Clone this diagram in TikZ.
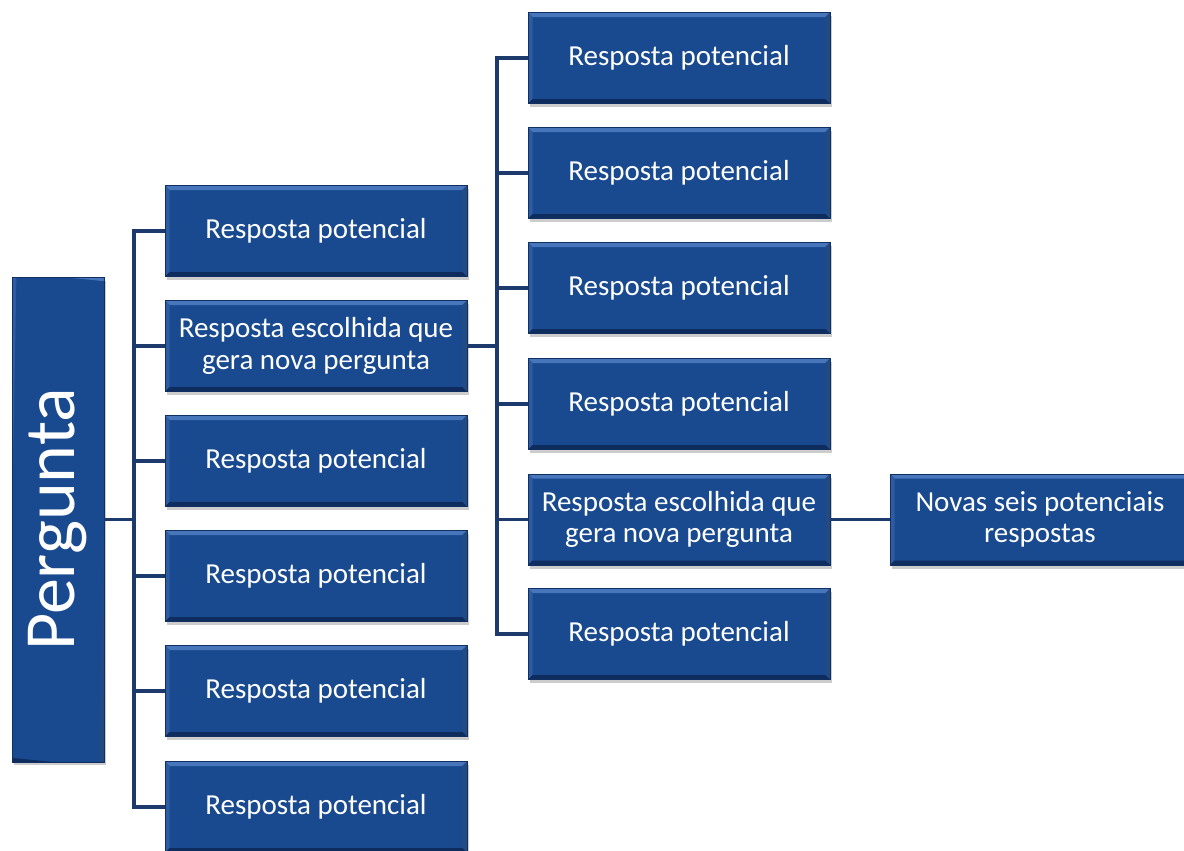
\documentclass[tikz,border=0pt]{standalone}
\usepackage{fontspec}
\setmainfont{Carlito}
\usetikzlibrary{shadows}
\definecolor{boxblue}{RGB}{25,74,144}
\definecolor{boxtop}{RGB}{72,118,186}
\definecolor{boxside}{RGB}{45,92,162}
\definecolor{boxlow}{RGB}{14,44,94}
\definecolor{boxedge}{RGB}{16,48,100}
\definecolor{wireblue}{RGB}{28,58,108}
\tikzset{
  bevel/.style={path picture={
    \coordinate (nw) at (path picture bounding box.north west);
    \coordinate (ne) at (path picture bounding box.north east);
    \coordinate (sw) at (path picture bounding box.south west);
    \coordinate (se) at (path picture bounding box.south east);
    \fill[boxtop] (nw) -- (ne) -- ([shift={(-0.09cm,-0.09cm)}]ne) -- ([shift={(0.09cm,-0.09cm)}]nw) -- cycle;
    \fill[boxside] (nw) -- (sw) -- ([shift={(0.09cm,0.09cm)}]sw) -- ([shift={(0.09cm,-0.09cm)}]nw) -- cycle;
    \fill[boxside!80!black] (ne) -- (se) -- ([shift={(-0.09cm,0.09cm)}]se) -- ([shift={(-0.09cm,-0.09cm)}]ne) -- cycle;
    \fill[boxlow] (sw) -- (se) -- ([shift={(-0.09cm,0.09cm)}]se) -- ([shift={(0.09cm,0.09cm)}]sw) -- cycle;
  }}
}
\begin{document}
\begin{tikzpicture}[
    x=0.02cm, y=-0.02cm,
    answer/.style={rectangle, bevel, fill=boxblue, draw=boxedge, line width=0.5pt,
      minimum width=6.04cm, minimum height=1.82cm, inner sep=2pt, align=center,
      text=white, font=\fontsize{16.5}{18}\selectfont,
      drop shadow={shadow xshift=1.2pt, shadow yshift=-2pt, opacity=0.4}},
    question/.style={answer, rotate=90, minimum width=9.7cm, minimum height=1.84cm,
      font=\fontsize{41}{44}\selectfont},
    wire/.style={draw=wireblue, line width=0.07cm}
]
  \useasboundingbox (0,0) rectangle (1184,850);

  % Question
  \node[question] (q) at (58,519.5) {Pergunta};

  % First level of answers
  \node[answer] (a1) at (316,231) {Resposta potencial};
  \node[answer] (a2) at (316,346) {Resposta escolhida que\\gera nova pergunta};
  \node[answer] (a3) at (316,461) {Resposta potencial};
  \node[answer] (a4) at (316,576) {Resposta potencial};
  \node[answer] (a5) at (316,691) {Resposta potencial};
  \node[answer] (a6) at (316,807) {Resposta potencial};

  % Second level of answers
  \node[answer] (b1) at (679,58) {Resposta potencial};
  \node[answer] (b2) at (679,173) {Resposta potencial};
  \node[answer] (b3) at (679,288) {Resposta potencial};
  \node[answer] (b4) at (679,404) {Resposta potencial};
  \node[answer] (b5) at (679,519.5) {Resposta escolhida que\\gera nova pergunta};
  \node[answer] (b6) at (679,634) {Resposta potencial};

  % Third level
  \node[answer, minimum width=6.0cm] (c1) at (1040,519.5) {Novas seis potenciais\\respostas};

  % Connectors
  \coordinate (s1) at (134,519.5);
  \coordinate (s2) at (497,346);
  \draw[wire] (q) -- (s1);
  \foreach \n in {a1,a2,a3,a4,a5,a6}
    \draw[wire] (s1) |- (\n);
  \draw[wire] (a2) -- (s2);
  \foreach \n in {b1,b2,b3,b4,b5,b6}
    \draw[wire] (s2) |- (\n);
  \draw[wire] (b5) -- (c1);
\end{tikzpicture}
\end{document}
